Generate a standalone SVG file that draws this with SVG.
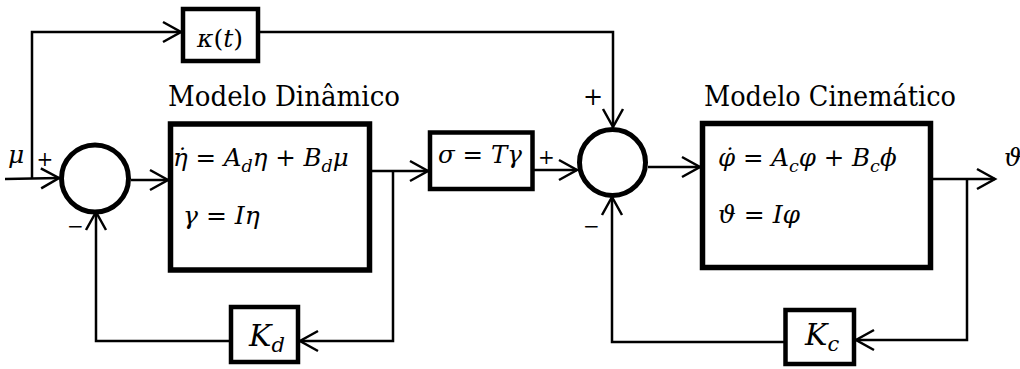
<svg xmlns="http://www.w3.org/2000/svg" width="1020" height="369" viewBox="0 0 1020 369">
<defs>
<marker id="arr" markerUnits="userSpaceOnUse" markerWidth="22" markerHeight="24" refX="19" refY="11" orient="auto" overflow="visible">
<path d="M1,1 L19,11 L1,21" fill="none" stroke="#000" stroke-width="2.5"/>
</marker>
<style>
.blk{fill:#fff;stroke:#000;stroke-width:4.5}
.big{fill:#fff;stroke:#000;stroke-width:5.5}
.sum{fill:#fff;stroke:#000;stroke-width:5}
.wire{fill:none;stroke:#000;stroke-width:2.5}
text{font-family:"DejaVu Serif",serif;fill:#000}
.m{font-style:italic}
.up{font-style:normal}
</style>
</defs>
<rect width="1020" height="369" fill="#fff"/>
<g id="connectors">
<path class="wire" d="M5,179 L59,178" marker-end="url(#arr)"/>
<path class="wire" d="M32,179 V32 H181" marker-end="url(#arr)"/>
<path class="wire" d="M260,32 H613 V127" marker-end="url(#arr)"/>
<path class="wire" d="M131,180 H168" marker-end="url(#arr)"/>
<path class="wire" d="M372,171 H428" marker-end="url(#arr)"/>
<path class="wire" d="M393,171 V341 H300" marker-end="url(#arr)"/>
<path class="wire" d="M231,341 H96 V212" marker-end="url(#arr)"/>
<path class="wire" d="M533,170 H577" marker-end="url(#arr)"/>
<path class="wire" d="M648,167 H700" marker-end="url(#arr)"/>
<path class="wire" d="M933,179 H995" marker-end="url(#arr)"/>
<path class="wire" d="M967,179 V340 H856" marker-end="url(#arr)"/>
<path class="wire" d="M785,342 H612 V197" marker-end="url(#arr)"/>
</g>
<g id="kappa">
<rect class="blk" x="183" y="9" width="75" height="52"/>
<text class="m" x="220" y="47" font-size="25" text-anchor="middle">κ<tspan class="up">(</tspan>t<tspan class="up">)</tspan></text>
</g>
<g id="sum1">
<circle class="sum" cx="95" cy="178.5" r="33.5"/>
</g>
<g id="dinamico">
<text x="168" y="106" font-size="27" textLength="232" lengthAdjust="spacingAndGlyphs">Modelo Dinâmico</text>
<rect class="big" x="170.5" y="124" width="199" height="146"/>
<text class="m" x="173" y="166" font-size="24.5">η̇ <tspan class="up">=</tspan> A<tspan font-size="17.5" dy="6">d</tspan><tspan dy="-6">η </tspan><tspan class="up">+</tspan> B<tspan font-size="17.5" dy="6">d</tspan><tspan dy="-6">μ</tspan></text>
<text class="m" x="183" y="224" font-size="25">γ <tspan class="up">=</tspan> Iη</text>
</g>
<g id="sigma">
<rect class="blk" x="430" y="132.5" width="102.5" height="56.5"/>
<text class="m" x="480" y="163" font-size="24.5" text-anchor="middle">σ <tspan class="up">=</tspan> Tγ</text>
</g>
<g id="sum2">
<circle class="sum" cx="612.5" cy="162.5" r="33"/>
</g>
<g id="cinematico">
<text x="704" y="106" font-size="27" textLength="252" lengthAdjust="spacingAndGlyphs">Modelo Cinemático</text>
<rect class="big" x="702.5" y="123.5" width="228" height="144"/>
<text class="m" x="718" y="166" font-size="24.5">φ̇ <tspan class="up">=</tspan> A<tspan font-size="17.5" dy="6">c</tspan><tspan dy="-6">φ </tspan><tspan class="up">+</tspan> B<tspan font-size="17.5" dy="6">c</tspan><tspan dy="-6">ϕ</tspan></text>
<text class="m" x="718" y="223" font-size="25">ϑ <tspan class="up">=</tspan> Iφ</text>
</g>
<g id="Kd">
<rect class="blk" x="231" y="307" width="67" height="55"/>
<text class="m" x="249" y="346" font-size="30">K<tspan font-size="21" dy="6">d</tspan></text>
</g>
<g id="Kc">
<rect class="blk" x="785.5" y="310" width="68.5" height="54"/>
<text class="m" x="805" y="345" font-size="30">K<tspan font-size="21" dy="6">c</tspan></text>
</g>
<g id="labels">
<text class="m" x="8" y="163" font-size="25">μ</text>
<text x="45" y="166" font-size="20" text-anchor="middle">+</text>
<text x="75.5" y="233" font-size="20" text-anchor="middle">−</text>
<text x="593" y="105" font-size="24" text-anchor="middle">+</text>
<text x="546.5" y="164" font-size="20" text-anchor="middle">+</text>
<text x="591.5" y="233" font-size="20" text-anchor="middle">−</text>
<text class="m" x="1004" y="166" font-size="25">ϑ</text>
</g>
</svg>
